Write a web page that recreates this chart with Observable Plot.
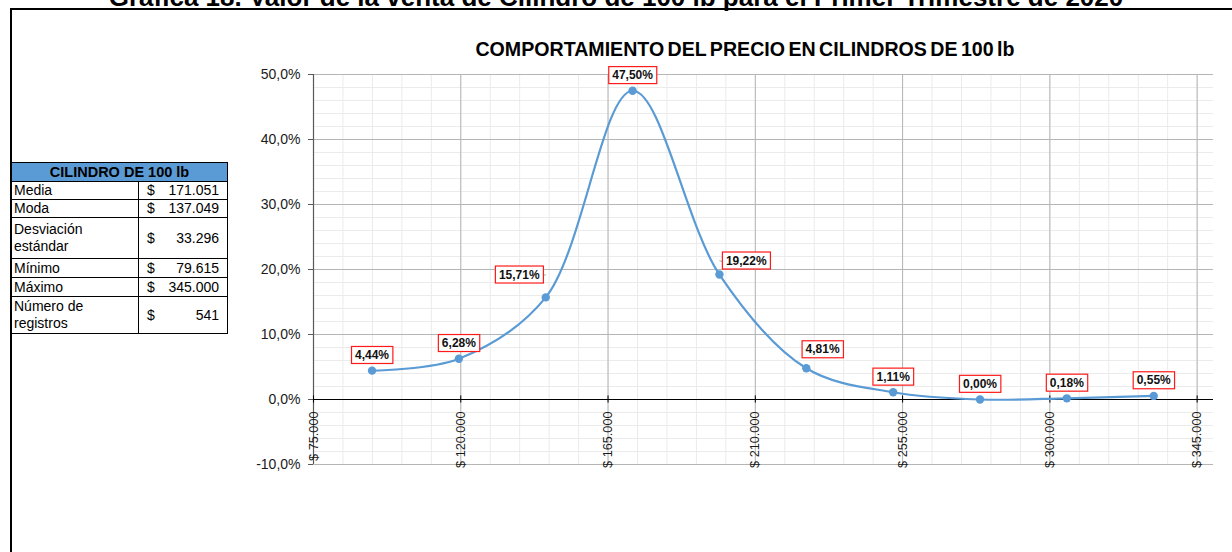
<!DOCTYPE html>
<html>
<head>
<meta charset="utf-8">
<script src="https://cdn.jsdelivr.net/npm/d3@7"></script>
<script src="https://cdn.jsdelivr.net/npm/@observablehq/plot@0.6"></script>
<style>
  html, body { margin: 0; padding: 0; background: #fff; }
  #page { position: relative; width: 1232px; height: 552px; overflow: hidden;
          font-family: "Liberation Sans", Arial, sans-serif; color: #000; }
  #page svg { position: absolute; left: 0; top: 0; }
  #frameTop { position: absolute; left: 10px; top: 8px; width: 1222px; height: 2px; background: #000; }
  #frameLeft { position: absolute; left: 10px; top: 8px; width: 2px; height: 544px; background: #000; }
  #mainTitle { position: absolute; left: 0; top: -16px; width: 1232px; text-align: center;
               font-weight: bold; font-size: 26px; line-height: 26px; white-space: nowrap; }
  #chartTitle { position: absolute; left: 445px; top: 40px; width: 600px; text-align: center;
                font-weight: bold; font-size: 19.6px; line-height: 19px; white-space: nowrap;
                word-spacing: -2px; color: #000; }
  #stats { position: absolute; left: 11px; top: 162px; width: 217px; border-collapse: collapse;
           font-size: 14px; z-index: 2; background: #fff; }
  #stats th { background: #5B9BD5; font-weight: bold; font-size: 14.5px; height: 18px; padding: 0;
              border: 1px solid #000; text-align: center; line-height: 16px; }
  #stats td { border: 1px solid #000; padding: 0 2px; vertical-align: middle; line-height: 17px; }
  #stats td.lab { width: 122px; }
  #stats td.val { padding: 0 8px 0 8px; }
  #stats td.val div { display: flex; justify-content: space-between; }
</style>
</head>
<body>
<div id="page">
  <div id="frameTop"></div>
  <div id="frameLeft"></div>
  <div id="mainTitle"></div>
  <div id="chartTitle"></div>
  <table id="stats"></table>
</div>
<script>
// ---- Data ----
const mainTitle = "Gráfica 18. Valor de la venta de Cilindro de 100 lb para el Primer Trimestre de 2020";
const chartTitle = "COMPORTAMIENTO DEL PRECIO EN CILINDROS DE 100 lb";

const tableHeader = "CILINDRO DE 100 lb";
const statLabels = ["Media", "Moda", "Desviación\nestándar", "Mínimo", "Máximo", "Número de\nregistros"];
const statValues = ["171.051", "137.049", "33.296", "79.615", "345.000", "541"];

// bin midpoints (price, $) and share of sales (%)
const priceMid = [92884, 119423, 145961, 172500, 199038, 225577, 252115, 278654, 305192, 331731];
const sharePct = [4.44, 6.28, 15.71, 47.50, 19.22, 4.81, 1.11, 0.00, 0.18, 0.55];

const xTicks = [75000, 120000, 165000, 210000, 255000, 300000, 345000];
const yTicks = [-10, 0, 10, 20, 30, 40, 50];

// ---- Layout / helpers ----
document.getElementById("mainTitle").textContent = mainTitle;
document.getElementById("chartTitle").textContent = chartTitle;

const rowHeights = [17, 17, 41, 19, 19, 37];
const tbl = document.getElementById("stats");
let html = `<tr><th colspan="2">${tableHeader}</th></tr>`;
statLabels.forEach((l, i) => {
  html += `<tr style="height:${rowHeights[i]}px"><td class="lab">${l.replace("\n", "<br>")}</td>` +
          `<td class="val"><div><span>$</span><span>${statValues[i]}</span></div></td></tr>`;
});
tbl.innerHTML = html;

const fmtMoney = d => "$ " + d3.format(",")(d).replace(/,/g, ".");
const fmtAxisPct = d => d.toFixed(1).replace(".", ",") + "%";
const fmtLabel = d => d.toFixed(2).replace(".", ",") + "%";

const data = priceMid.map((x, i) => ({x, y: sharePct[i], label: fmtLabel(sharePct[i])}));
const labels = data.map(d => d.label);

// label placements that differ from the default "above" position (pixels)
const labelShift = {2: [-26.5, -22.7], 4: [26.8, -13.9], 5: [16.3, -18.8]};
const stdLabels = data.filter((d, i) => !(i in labelShift));

const xMinor = d3.range(75000, 350001, 9000);
const yMinor = d3.range(-10, 50.01, 2);

const blue = "#5B9BD5";
const labelStyle = {fontSize: 12, fontWeight: "bold", fill: "#111"};

const marks = [
  Plot.gridX({ticks: xMinor, stroke: "#ebebeb", strokeOpacity: 1}),
  Plot.gridY({ticks: yMinor, stroke: "#ebebeb", strokeOpacity: 1}),
  Plot.gridX({ticks: xTicks, stroke: "#b5b5b5", strokeOpacity: 1}),
  Plot.gridY({ticks: yTicks, stroke: "#b5b5b5", strokeOpacity: 1}),
  Plot.ruleX([75000], {stroke: "#595959", strokeWidth: 1.2}),
  Plot.ruleY([0], {stroke: "#000", strokeWidth: 1.2}),
  Plot.ruleX(xTicks, {x: d => d, y1: -0.55, y2: 0.55, stroke: "#000"}),
  Plot.axisY({ticks: yTicks, tickFormat: fmtAxisPct, tickSize: 5, tickPadding: 8,
              fontSize: 14, stroke: "#595959", fill: "#1a1a1a", label: null}),
  Plot.text(xTicks, {x: d => d, y: () => 0, text: fmtMoney, rotate: -90, textAnchor: "end",
                     dy: 12, fontSize: 12.7, fill: "#1a1a1a"}),
  Plot.line(data, {x: "x", y: "y", curve: "catmull-rom", stroke: blue, strokeWidth: 2.2}),
  Plot.dot(data, {x: "x", y: "y", r: 4.2, fill: blue, stroke: "none"}),
  Plot.text(stdLabels, {x: "x", y: "y", text: "label", dy: -15.5, ...labelStyle})
];
Object.entries(labelShift).forEach(([i, [dx, dy]]) => {
  marks.push(Plot.text([data[+i]], {x: "x", y: "y", text: "label", dx, dy, ...labelStyle}));
});

const chart = Plot.plot({
  width: 1232,
  height: 552,
  marginLeft: 313,
  marginRight: 19,
  marginTop: 74,
  marginBottom: 88,
  x: {domain: [75000, 350000], axis: null},
  y: {domain: [-10, 50]},
  style: {fontFamily: "'Liberation Sans', Arial, sans-serif", fontSize: "14px",
          background: "transparent", color: "#000", overflow: "visible"},
  marks
});
const page = document.getElementById("page");
page.insertBefore(chart, page.firstChild);

// red-bordered boxes behind data labels, plus leader lines for shifted labels
const ns = "http://www.w3.org/2000/svg";
chart.querySelectorAll("text").forEach(t => {
  const s = t.textContent;
  if (!/^\d+,\d{2}%$/.test(s)) return;
  const i = labels.indexOf(s);
  if (i < 0) return;
  const b = t.getBBox();
  const tr = t.getAttribute("transform");
  const rect = document.createElementNS(ns, "rect");
  if (tr) rect.setAttribute("transform", tr);
  const padX = 3.5, padY = 1.5;
  rect.setAttribute("x", b.x - padX);
  rect.setAttribute("y", b.y - padY);
  rect.setAttribute("width", b.width + 2 * padX);
  rect.setAttribute("height", b.height + 2 * padY);
  rect.setAttribute("fill", "#fff");
  rect.setAttribute("stroke", "#ff1a1a");
  rect.setAttribute("stroke-width", "1.2");
  t.parentNode.insertBefore(rect, t);
  if (labelShift[i]) {
    const [dx, dy] = labelShift[i];
    const ox = +(t.getAttribute("x") || 0), oy = +(t.getAttribute("y") || 0);
    const ln = document.createElementNS(ns, "line");
    if (tr) ln.setAttribute("transform", tr);
    ln.setAttribute("x1", ox - dx);
    ln.setAttribute("y1", oy - dy);
    ln.setAttribute("x2", ox);
    ln.setAttribute("y2", b.y + b.height + padY);
    ln.setAttribute("stroke", "#a6a6a6");
    ln.setAttribute("stroke-width", "1");
    t.parentNode.insertBefore(ln, rect);
  }
});
</script>
</body>
</html>
